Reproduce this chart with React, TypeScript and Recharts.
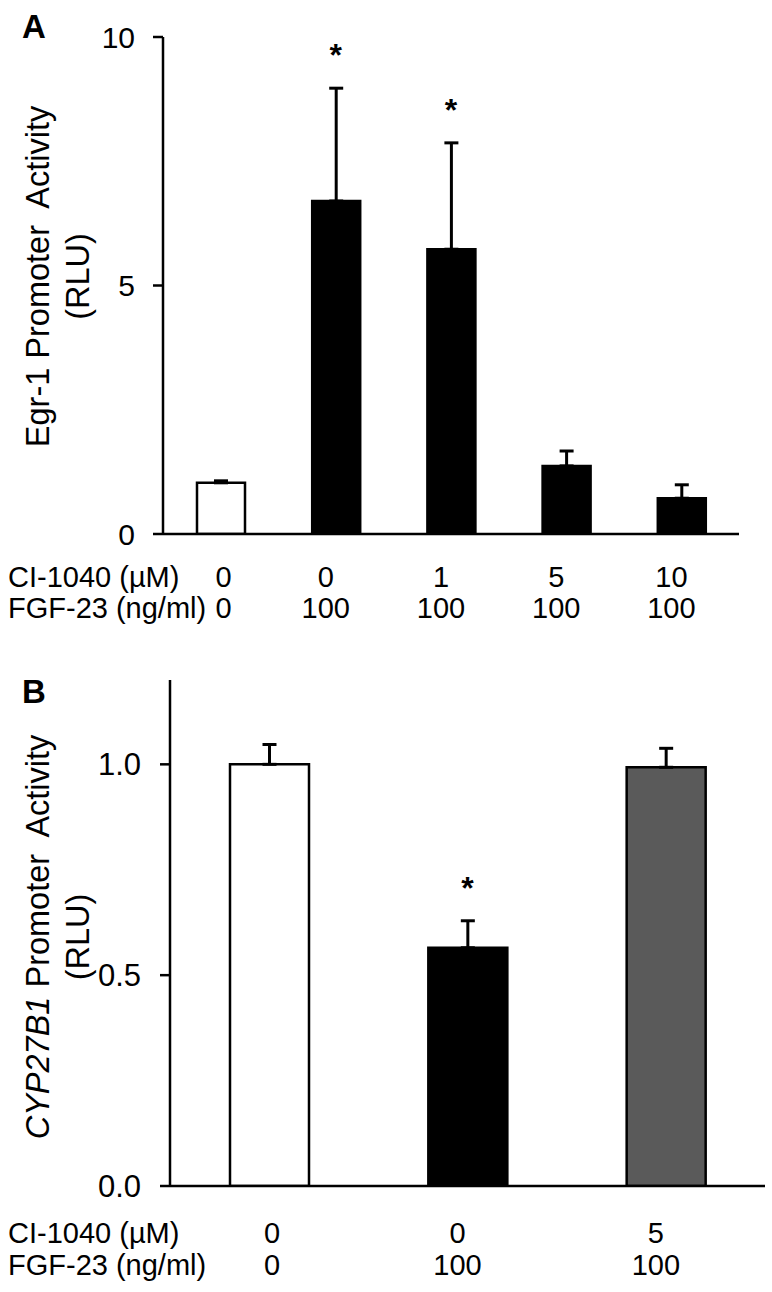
import React from "react";
import {
  ComposedChart,
  Bar,
  Scatter,
  XAxis,
  YAxis,
  ErrorBar,
  Label,
  Cell,
} from "recharts";

const FONT = '"Liberation Sans", Arial, Helvetica, sans-serif';

// Panel A: Egr-1 promoter activity
const aInhibitor = ["0", "0", "1", "5", "10"];
const aFgf = ["0", "100", "100", "100", "100"];
const aValues = [1.03, 6.7, 5.73, 1.37, 0.72];
const aErrors = [0.04, 2.27, 2.14, 0.3, 0.27];
const aStars = [false, true, true, false, false];
const aFills = ["#ffffff", "#000000", "#000000", "#000000", "#000000"];
const aTicks = [0, 5, 10];

// Panel B: CYP27B1 promoter activity
const bInhibitor = ["0", "0", "5"];
const bFgf = ["0", "100", "100"];
const bValues = [1.0, 0.565, 0.993];
const bErrors = [0.047, 0.064, 0.045];
const bStars = [false, true, false];
const bFills = ["#ffffff", "#000000", "#5a5a5a"];
const bTicks = [0, 0.5, 1.0];

const rowHeaders = ["CI-1040 (\u00b5M)", "FGF-23 (ng/ml)"];

const buildRows = (
  inhibitor: string[],
  fgf: string[],
  values: number[],
  errors: number[],
  stars: boolean[]
) =>
  values.map((v, i) => ({
    name: String(i),
    inhibitor: inhibitor[i],
    fgf: fgf[i],
    value: v,
    err: [0, errors[i]],
    star: stars[i] ? v + errors[i] : null,
  }));

const aRows = buildRows(aInhibitor, aFgf, aValues, aErrors, aStars);
const bRows = buildRows(bInhibitor, bFgf, bValues, bErrors, bStars);

const makeXTick =
  (rows: any[], rowGap: number[], fontSize: number) => (props: any) => {
    const { x, y, index } = props;
    const row = rows[index];
    const dx = index === 0 ? 3 : -10;
    return (
      <g>
        {index === 0 &&
          rowHeaders.map((h, k) => (
            <text
              key={h}
              x={8}
              y={y + rowGap[k]}
              fontFamily={FONT}
              fontSize={fontSize}
              fill="#000"
              textAnchor="start"
            >
              {h}
            </text>
          ))}
        <text
          x={x + dx}
          y={y + rowGap[0]}
          fontFamily={FONT}
          fontSize={fontSize}
          fill="#000"
          textAnchor="middle"
        >
          {row.inhibitor}
        </text>
        <text
          x={x + dx}
          y={y + rowGap[1]}
          fontFamily={FONT}
          fontSize={fontSize}
          fill="#000"
          textAnchor="middle"
        >
          {row.fgf}
        </text>
      </g>
    );
  };

const renderStar = (props: any) => {
  const { cx, cy, payload } = props;
  if (payload == null || payload.star == null || cy == null) return <g />;
  return (
    <text
      x={cx}
      y={cy - 22}
      fontFamily={FONT}
      fontSize={32}
      fontWeight="bold"
      textAnchor="middle"
      fill="#000"
    >
      *
    </text>
  );
};

const makeYTitle =
  (letter: string, lines: React.ReactNode[], letterY: number, shift: number) =>
  (props: any) => {
    const { viewBox } = props;
    const cy = viewBox.y + viewBox.height / 2 + shift;
    return (
      <g>
        <text
          x={22}
          y={letterY}
          fontFamily={FONT}
          fontSize={33}
          fontWeight="bold"
          fill="#000"
        >
          {letter}
        </text>
        {lines.map((ln, k) => (
          <text
            key={k}
            transform={`translate(${49 + k * 40}, ${cy}) rotate(-90)`}
            fontFamily={FONT}
            fontSize={32.5}
            fill="#000"
            textAnchor="middle"
            xmlSpace="preserve"
          >
            {ln}
          </text>
        ))}
      </g>
    );
  };

const tickStyle = { fontFamily: FONT, fill: "#000" };

export default function App() {
  return (
    <div
      style={{
        position: "absolute",
        left: 0,
        top: 0,
        width: 772,
        height: 1292,
        background: "#fff",
      }}
    >
      <ComposedChart
        width={772}
        height={640}
        data={aRows}
        margin={{ top: 37, right: 33, left: 0, bottom: 0 }}
      >
        <XAxis
          dataKey="name"
          height={106}
          axisLine={{ stroke: "#000", strokeWidth: 2.5 }}
          tickLine={false}
          tickSize={0}
          tickMargin={0}
          interval={0}
          tick={makeXTick(aRows, [53, 84], 29)}
        />
        <YAxis
          width={163}
          domain={[0, 10]}
          ticks={aTicks}
          allowDataOverflow
          axisLine={{ stroke: "#000", strokeWidth: 2.5 }}
          tickLine={{ stroke: "#000", strokeWidth: 2.5 }}
          tickSize={10}
          tickMargin={18}
          tick={{ ...tickStyle, fontSize: 30 }}
        >
          <Label
            content={makeYTitle(
              "A",
              ["Egr-1 Promoter  Activity", "(RLU)"],
              38,
              -9
            )}
          />
        </YAxis>
        <Bar
          dataKey="value"
          barSize={48}
          stroke="#000"
          strokeWidth={2.5}
          isAnimationActive={false}
        >
          {aRows.map((r, i) => (
            <Cell key={r.name} fill={aFills[i]} />
          ))}
          <ErrorBar
            dataKey="err"
            direction="y"
            width={7}
            stroke="#000"
            strokeWidth={3}
            isAnimationActive={false}
          />
        </Bar>
        <Scatter
          dataKey="star"
          shape={renderStar}
          isAnimationActive={false}
        />
      </ComposedChart>

      <ComposedChart
        width={772}
        height={652}
        data={bRows}
        margin={{ top: 40, right: 7, left: 0, bottom: 0 }}
      >
        <XAxis
          dataKey="name"
          height={106}
          axisLine={{ stroke: "#000", strokeWidth: 2.5 }}
          tickLine={false}
          tickSize={0}
          tickMargin={0}
          interval={0}
          tick={makeXTick(bRows, [57, 89], 29)}
        />
        <YAxis
          width={170}
          domain={[0, 1.2]}
          ticks={bTicks}
          allowDataOverflow
          axisLine={{ stroke: "#000", strokeWidth: 2.5 }}
          tickLine={{ stroke: "#000", strokeWidth: 2.5 }}
          tickSize={10}
          tickMargin={19}
          tickFormatter={(v: number) => v.toFixed(1)}
          tick={{ ...tickStyle, fontSize: 31 }}
        >
          <Label
            content={makeYTitle(
              "B",
              [
                <>
                  <tspan fontStyle="italic">CYP27B1</tspan>
                  {" Promoter  Activity"}
                </>,
                "(RLU)",
              ],
              63,
              4
            )}
          />
        </YAxis>
        <Bar
          dataKey="value"
          barSize={79}
          stroke="#000"
          strokeWidth={2.5}
          isAnimationActive={false}
        >
          {bRows.map((r, i) => (
            <Cell key={r.name} fill={bFills[i]} />
          ))}
          <ErrorBar
            dataKey="err"
            direction="y"
            width={7}
            stroke="#000"
            strokeWidth={3}
            isAnimationActive={false}
          />
        </Bar>
        <Scatter
          dataKey="star"
          shape={renderStar}
          isAnimationActive={false}
        />
      </ComposedChart>
    </div>
  );
}
